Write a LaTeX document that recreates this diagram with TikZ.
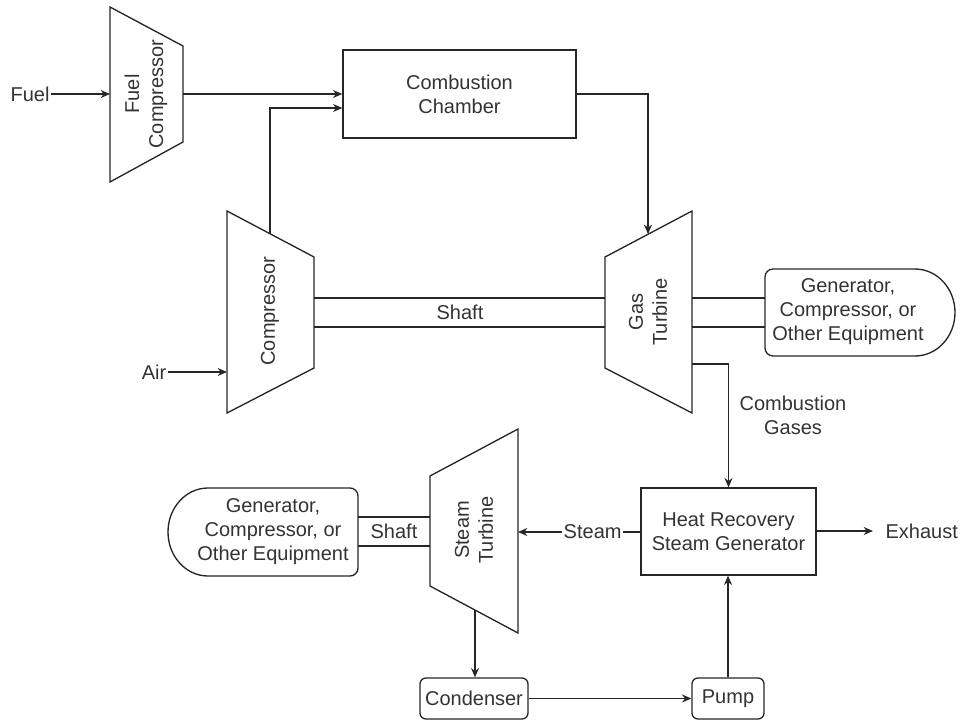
\documentclass[tikz,border=0pt]{standalone}
\usepackage{fontspec}
\setmainfont{Liberation Sans}
\usetikzlibrary{arrows.meta}
\begin{document}
\begin{tikzpicture}[x=0.75pt,y=-0.75pt,
  every node/.style={font=\fontsize{15}{18}\selectfont, text=black!80, align=center, inner sep=1pt},
  line/.style={draw=black!85, line width=1pt},
  flow/.style={line, -{Stealth[length=7pt,width=6pt]}},
  box/.style={draw=black!85, line width=1pt, inner sep=0pt},
  rbox/.style={box, rounded corners=4.5pt}]
\useasboundingbox (0,0) rectangle (966,721);

% ---- Fuel compressor
\draw[line] (110,7) -- (183,46) -- (183,142) -- (110,182) -- cycle;
\node[rotate=90] (fc) at (146,94) {Fuel\\Compressor};
\coordinate (fcin) at (110,94);
\coordinate (fcout) at (183,94);
\node (fuel) at (30,94) {Fuel};

% ---- Combustion chamber
\node[box, minimum width=174.75pt, minimum height=66pt] (cc) at (459.5,94) {Combustion\\Chamber};

% ---- Compressor
\draw[line] (227,211) -- (314,257) -- (314,368) -- (227,413) -- cycle;
\node[rotate=90] (comp) at (270,311) {Compressor};
\coordinate (compout) at (270,233.7);
\coordinate (compin) at (227,372);
\node (air) at (154,372) {Air};

% ---- Gas turbine
\draw[line] (605,257) -- (692,211) -- (692,413) -- (605,368) -- cycle;
\node[rotate=90] (gt) at (648,312) {Gas\\Turbine};
\coordinate (gtin) at (648,234);
\coordinate (gtout) at (692,364);

% ---- Shaft (compressor - gas turbine)
\coordinate (s1a) at (314,298); \coordinate (s1b) at (605,298);
\coordinate (s2a) at (314,327); \coordinate (s2b) at (605,327);
\draw[line] (s1a) -- (s1b);
\draw[line] (s2a) -- (s2b);
\node (shaft1) at (460,312) {Shaft};

% ---- Generator 1
\draw[line, rounded corners=6pt] (915,269) -- (765,269) -- (765,356) -- (915,356);
\draw[line] (915,269) arc[start angle=90, end angle=-90, x radius=30pt, y radius=32.625pt];
\node (gen1) at (848,312) {Generator,\\Compressor, or\\Other Equipment};
\coordinate (g1a) at (692,298); \coordinate (g1b) at (765,298);
\coordinate (g1c) at (692,327); \coordinate (g1d) at (765,327);
\draw[line] (g1a) -- (g1b);
\draw[line] (g1c) -- (g1d);

% ---- HRSG
\node[box, minimum width=131.25pt, minimum height=65.25pt] (hrsg) at (728.5,531.5) {Heat Recovery\\Steam Generator};
\node (cgas) at (793,415) {Combustion\\Gases};
\node[anchor=west] (exh) at (884,531) {Exhaust};

% ---- Steam turbine
\draw[line] (430,476) -- (518,429) -- (518,633) -- (430,586) -- cycle;
\node[rotate=90] (st) at (474,530) {Steam\\Turbine};
\coordinate (stin) at (518,532);
\coordinate (stout) at (475,610);

% ---- Generator 2
\draw[line, rounded corners=6pt] (208,488) -- (358,488) -- (358,576) -- (208,576);
\draw[line] (208,488) arc[start angle=90, end angle=270, x radius=30pt, y radius=33pt];
\node (gen2) at (273,532) {Generator,\\Compressor, or\\Other Equipment};
\coordinate (g2a) at (358,517); \coordinate (g2b) at (430,517);
\coordinate (g2c) at (358,546); \coordinate (g2d) at (430,546);
\draw[line] (g2a) -- (g2b);
\draw[line] (g2c) -- (g2d);
\node (shaft2) at (394,531) {Shaft};

% ---- Condenser & pump
\node[rbox, minimum width=81pt, minimum height=30.75pt] (cond) at (474,698.5) {Condenser};
\node[rbox, minimum width=54pt, minimum height=30.75pt] (pump) at (728,698.5) {Pump};

% ---- Connectors
\draw[flow] (fuel) -- (fcin);
\draw[flow] (fcout) -- (fcout -| cc.west);
\draw[flow] (compout) |- (cc.west |- 0,108);
\draw[flow] (air) -- (compin);
\draw[flow] (cc.east) -| (gtin);
\draw[flow] (gtout) -| (hrsg.north);
\draw[flow] (hrsg.west |- stin) -- node[pos=0.39, fill=white] (steam) {Steam} (stin);
\draw[flow] (hrsg.east |- 0,531) -- (873,531);
\draw[flow] (stout) -- (cond.north -| stout);
\draw[flow] (cond.east) -- (pump.west);
\draw[flow] (pump.north) -- (hrsg.south -| pump.north);
\end{tikzpicture}
\end{document}
